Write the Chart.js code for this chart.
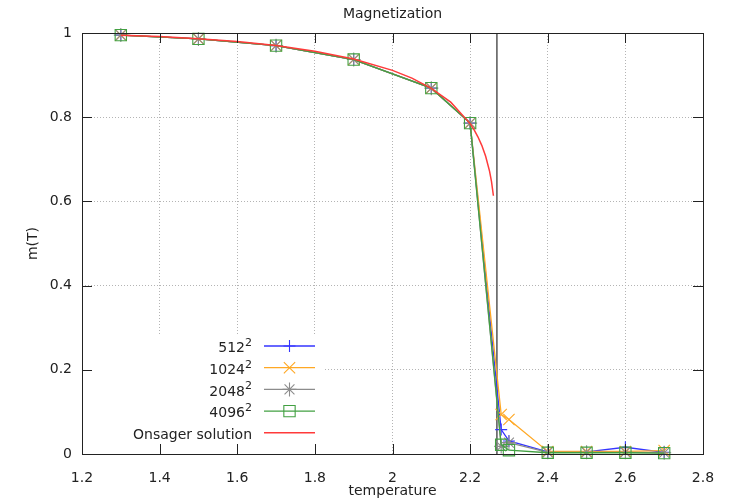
<!DOCTYPE html>
<html>
<head>
<meta charset="utf-8">
<script src="https://cdn.jsdelivr.net/npm/chart.js@4.4.0/dist/chart.umd.min.js"></script>
<style>
  html, body { margin: 0; padding: 0; background: #fff; }
  canvas { display: block; }
</style>
</head>
<body>
<canvas id="magnetization-chart" width="732" height="501"></canvas>
<script>
// simulated lattices: temperature grid shared by every lattice size
const temperatures = [1.3, 1.5, 1.7, 1.9, 2.1, 2.2, 2.28, 2.3, 2.4, 2.5, 2.6, 2.7];
const m512 = [0.995, 0.986, 0.970, 0.937, 0.869, 0.786, 0.058, 0.031, 0.005, 0.005, 0.016, 0.004];
const m1024 = [0.995, 0.986, 0.970, 0.937, 0.869, 0.786, 0.094, 0.082, 0.006, 0.006, 0.006, 0.008];
const m2048 = [0.995, 0.986, 0.970, 0.937, 0.869, 0.786, 0.018, 0.027, 0.004, 0.004, 0.004, 0.003];
const m4096 = [0.995, 0.986, 0.970, 0.937, 0.869, 0.786, 0.022, 0.009, 0.003, 0.003, 0.003, 0.002];

// exact solution
const onsagerT = [1.3, 1.4, 1.5, 1.6, 1.7, 1.8, 1.9, 2.0, 2.05, 2.1, 2.15, 2.2, 2.21, 2.22, 2.23, 2.24, 2.25, 2.255, 2.26];
const onsagerM = [0.9948, 0.9914, 0.9865, 0.9796, 0.9701, 0.9569, 0.9383, 0.9113, 0.8928, 0.8687, 0.8357, 0.7848, 0.7704, 0.7535, 0.7331, 0.7073, 0.6719, 0.6473, 0.6134];

// critical temperature marker
const tcValue = 2.269;
const tcRange = [0, 1];

const legendLabels = ['512', '1024', '2048', '4096', 'Onsager solution'];
const legendExponents = ['2', '2', '2', '2', ''];

const FONT = '"DejaVu Sans", Verdana, sans-serif';
const TEXT_COLOR = '#222';

function toPoints(xs, ys) {
  return xs.map((x, i) => ({ x: x, y: ys[i] }));
}

const seriesStyles = [
  { color: '#3535ff', pointStyle: 'cross', radius: 6 },
  { color: '#ffa824', pointStyle: 'crossRot', radius: 8 },
  { color: '#8c8c8c', pointStyle: 'star', radius: 7 },
  { color: '#42a042', pointStyle: 'rect', radius: 8 },
  { color: '#ff3a3a', pointStyle: false, radius: 0 },
];

function simDataset(label, values, style, order) {
  return {
    label: label,
    data: toPoints(temperatures, values),
    showLine: true,
    borderColor: style.color,
    borderWidth: 1.3,
    pointStyle: style.pointStyle,
    pointRadius: style.radius,
    pointBorderColor: style.color,
    pointBackgroundColor: 'rgba(0,0,0,0)',
    pointBorderWidth: 1.1,
    clip: false,
    order: order,
  };
}

// gnuplot's key box hides the grid behind it
const keyMask = {
  id: 'keyMask',
  beforeDatasetsDraw(chart) {
    const { ctx, chartArea } = chart;
    ctx.save();
    ctx.fillStyle = '#fff';
    ctx.fillRect(chartArea.left + 1, 335, 322 - chartArea.left, chartArea.bottom - 335);
    ctx.restore();
  },
};

// frame, inward mirrored ticks, titles and the key
const gnuplotFrame = {
  id: 'gnuplotFrame',
  afterDraw(chart) {
    const { ctx, chartArea, scales } = chart;
    const { left, right, top, bottom } = chartArea;
    ctx.save();
    ctx.strokeStyle = '#222';
    ctx.lineWidth = 1;
    ctx.strokeRect(Math.round(left) + 0.5, Math.round(top) + 0.5, Math.round(right - left), Math.round(bottom - top));

    ctx.beginPath();
    scales.x.ticks.forEach((t) => {
      const px = Math.round(scales.x.getPixelForValue(t.value)) + 0.5;
      ctx.moveTo(px, bottom);
      ctx.lineTo(px, bottom - 10);
      ctx.moveTo(px, top);
      ctx.lineTo(px, top + 10);
    });
    scales.y.ticks.forEach((t) => {
      const py = Math.round(scales.y.getPixelForValue(t.value)) + 0.5;
      ctx.moveTo(left, py);
      ctx.lineTo(left + 10, py);
      ctx.moveTo(right, py);
      ctx.lineTo(right - 10, py);
    });
    ctx.stroke();

    ctx.fillStyle = TEXT_COLOR;
    ctx.font = '14px ' + FONT;
    ctx.textAlign = 'center';
    ctx.textBaseline = 'middle';
    ctx.fillText('Magnetization', (left + right) / 2, 14);
    ctx.fillText('temperature', (left + right) / 2, 491);
    ctx.save();
    ctx.translate(33, (top + bottom) / 2);
    ctx.rotate(-Math.PI / 2);
    ctx.fillText('m(T)', 0, 0);
    ctx.restore();

    // key
    const textRight = 252;
    const lineFrom = 264;
    const lineTo = 315;
    legendLabels.forEach((label, i) => {
      const rowY = 346 + i * 21.7;
      const style = seriesStyles[i];
      ctx.textBaseline = 'alphabetic';
      ctx.textAlign = 'left';
      ctx.font = '11px ' + FONT;
      const supW = legendExponents[i] ? ctx.measureText(legendExponents[i]).width : 0;
      if (supW) ctx.fillText(legendExponents[i], textRight - supW, rowY);
      ctx.font = '14px ' + FONT;
      ctx.textAlign = 'right';
      ctx.fillText(label, textRight - supW, rowY + 6.3);

      ctx.strokeStyle = style.color;
      ctx.lineWidth = i === 4 ? 1.5 : 1.3;
      ctx.beginPath();
      ctx.moveTo(lineFrom, rowY);
      ctx.lineTo(lineTo, rowY);
      ctx.stroke();
      if (style.pointStyle) {
        ctx.lineWidth = 1.1;
        ctx.fillStyle = 'rgba(0,0,0,0)';
        Chart.helpers.drawPoint(ctx, {
          pointStyle: style.pointStyle,
          radius: style.radius,
          rotation: 0,
          borderWidth: 1.1,
        }, (lineFrom + lineTo) / 2, rowY);
        ctx.fillStyle = TEXT_COLOR;
      }
    });
    ctx.restore();
  },
};

Chart.defaults.font.family = FONT;
Chart.defaults.font.size = 14;
Chart.defaults.color = TEXT_COLOR;

const data = {
  datasets: [
    simDataset('512^2', m512, seriesStyles[0], 5),
    simDataset('1024^2', m1024, seriesStyles[1], 4),
    simDataset('2048^2', m2048, seriesStyles[2], 3),
    simDataset('4096^2', m4096, seriesStyles[3], 2),
    {
      label: 'Onsager solution',
      data: toPoints(onsagerT, onsagerM),
      showLine: true,
      borderColor: seriesStyles[4].color,
      borderWidth: 1.5,
      pointRadius: 0,
      clip: false,
      order: 1,
    },
    {
      label: 'Tc',
      data: toPoints([tcValue, tcValue], tcRange),
      showLine: true,
      borderColor: '#555',
      borderWidth: 1.5,
      pointRadius: 0,
      order: 6,
    },
  ],
};

const config = {
  type: 'scatter',
  data: data,
  options: {
    responsive: false,
    animation: false,
    devicePixelRatio: 1,
    layout: {
      padding: { left: 0, top: 33, right: 29, bottom: 0 },
    },
    plugins: {
      legend: { display: false },
      title: { display: false },
      tooltip: { enabled: false },
    },
    elements: {
      line: { tension: 0 },
    },
    scales: {
      x: {
        type: 'linear',
        min: 1.2,
        max: 2.8,
        ticks: {
          stepSize: 0.2,
          padding: 16,
          maxRotation: 0,
          callback: (v) => String(Number(v.toFixed(1))),
        },
        grid: { color: '#b4b4b4', lineWidth: 1, drawTicks: false },
        border: { display: false, dash: [1, 2] },
        afterFit: (scale) => { scale.height = 47; },
      },
      y: {
        type: 'linear',
        min: 0,
        max: 1,
        ticks: {
          stepSize: 0.2,
          padding: 10,
          callback: (v) => String(Number(v.toFixed(1))),
        },
        grid: { color: '#b4b4b4', lineWidth: 1, drawTicks: false },
        border: { display: false, dash: [1, 2] },
        afterFit: (scale) => { scale.width = 82; },
      },
    },
  },
  plugins: [keyMask, gnuplotFrame],
};

window.magnetizationChart = new Chart(document.getElementById('magnetization-chart'), config);
</script>
</body>
</html>
